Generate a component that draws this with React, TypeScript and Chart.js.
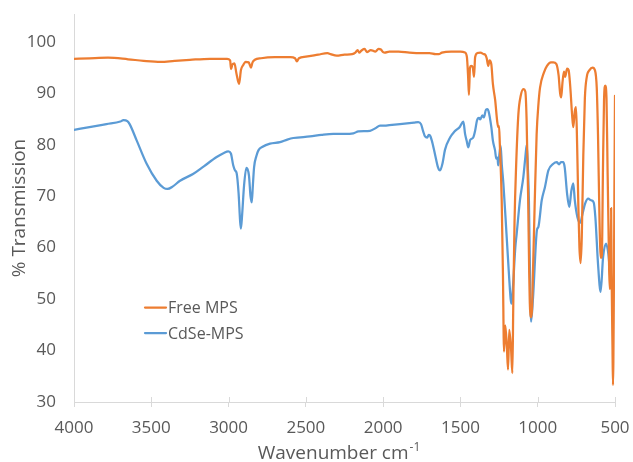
import React, { useEffect, useRef } from "react";
import { Chart, registerables } from "chart.js";

Chart.register(...registerables);

// FTIR spectra: wavenumber (cm-1) vs % transmission
const FREE_WAVENUMBER = [
  4000, 3900, 3780, 3650, 3550, 3440, 3350, 3250, 3120, 3010, 2990, 2984, 2975, 2962, 2950, 2932, 2920, 2905,
  2890, 2870, 2855, 2845, 2830, 2790, 2700, 2600, 2570, 2558, 2545, 2500, 2420, 2360, 2340, 2300, 2250, 2200,
  2180, 2165, 2155, 2140, 2120, 2105, 2080, 2050, 2030, 2015, 2000, 1990, 1960, 1900, 1830, 1750, 1700, 1660,
  1640, 1620, 1560, 1500, 1470, 1458, 1450, 1445, 1438, 1430, 1420, 1412, 1405, 1390, 1370, 1350, 1340, 1330,
  1320, 1312, 1300, 1290, 1275, 1262, 1255, 1250, 1245, 1233, 1225, 1218, 1210, 1200, 1192, 1184, 1172, 1164,
  1158, 1150, 1140, 1125, 1110, 1093, 1080, 1072, 1062, 1055, 1047, 1040, 1030, 1020, 1007, 995, 985, 960,
  940, 915, 899, 880, 865, 855, 848, 840, 830, 822, 810, 800, 790, 778, 770, 760, 752, 745, 737, 730, 722,
  715, 705, 695, 683, 665, 645, 630, 618, 610, 600, 592, 585, 578, 571, 563, 555, 548, 540, 535, 528, 525,
  522, 516, 513, 508, 504, 500,
];
const FREE_TRANSMISSION = [
  96.7, 96.8, 96.9, 96.6, 96.3, 96.1, 96.3, 96.5, 96.7, 96.7, 96.4, 94.7, 95.6, 95.8, 94.0, 91.8, 94.5, 95.5,
  96.1, 96.0, 95.0, 96.0, 96.5, 96.8, 97.0, 97.0, 96.8, 96.2, 96.8, 97.1, 97.5, 97.8, 97.6, 97.3, 97.5, 97.6,
  97.9, 98.4, 97.9, 98.3, 98.6, 98.0, 98.4, 98.1, 98.6, 98.5, 98.0, 97.9, 98.1, 98.1, 97.9, 97.8, 97.8, 97.6,
  97.6, 97.9, 98.1, 98.1, 97.9, 97.0, 93.0, 89.7, 95.0, 95.3, 95.0, 93.2, 97.0, 97.8, 97.9, 97.6, 97.5, 96.8,
  95.3, 96.4, 95.6, 91.8, 88.6, 84.5, 83.4, 83.6, 80.0, 69.2, 55.0, 39.8, 44.9, 41.0, 36.3, 44.0, 40.0, 35.6,
  49.2, 65.0, 75.6, 86.0, 89.5, 90.8, 90.3, 85.0, 70.0, 55.0, 46.5, 46.5, 56.0, 68.0, 82.0, 88.0, 91.1, 94.0,
  95.3, 96.0, 96.0, 95.7, 93.5, 90.0, 89.2, 92.0, 94.2, 93.2, 94.8, 94.5, 91.5, 86.0, 83.4, 86.5, 87.3, 80.0,
  68.0, 60.0, 57.0, 62.0, 78.0, 89.0, 93.1, 94.5, 95.0, 94.5, 91.0, 82.0, 65.0, 58.0, 58.5, 75.0, 88.6, 91.5,
  89.0, 75.0, 60.0, 52.0, 55.0, 67.7, 55.0, 40.0, 33.3, 48.0, 70.0, 89.5,
];

const CDSE_WAVENUMBER = [
  4000, 3900, 3790, 3700, 3680, 3655, 3640, 3594, 3530, 3465, 3420, 3395, 3360, 3314, 3230, 3160, 3077, 3030,
  3002, 2985, 2970, 2958, 2948, 2935, 2925, 2920, 2912, 2900, 2885, 2878, 2868, 2858, 2850, 2843, 2835, 2820,
  2807, 2780, 2732, 2667, 2620, 2581, 2473, 2400, 2322, 2250, 2193, 2160, 2085, 2050, 2020, 1990, 1960, 1891,
  1800, 1773, 1755, 1742, 1729, 1715, 1705, 1697, 1685, 1665, 1645, 1632, 1615, 1600, 1567, 1540, 1503, 1481,
  1470, 1460, 1449, 1437, 1417, 1405, 1393, 1380, 1372, 1358, 1348, 1335, 1325, 1318, 1300, 1290, 1276, 1268,
  1260, 1256, 1250, 1240, 1232, 1222, 1202, 1185, 1175, 1169, 1160, 1145, 1136, 1115, 1093, 1080, 1071, 1063,
  1057, 1050, 1043, 1030, 1005, 996, 974, 953, 931, 899, 877, 862, 850, 834, 825, 810, 796, 782, 770, 760, 743,
  726, 710, 694, 673, 655, 638, 627, 610, 593, 577, 558, 543, 521, 510, 500,
];
const CDSE_TRANSMISSION = [
  82.9, 83.4, 84.0, 84.5, 84.8, 84.6, 84.0, 80.8, 76.3, 73.0, 71.6, 71.4, 71.9, 73.0, 74.3, 75.8, 77.6, 78.4,
  78.7, 78.3, 76.0, 75.0, 74.5, 70.5, 65.0, 63.7, 66.5, 72.0, 75.5, 75.3, 74.0, 70.0, 68.8, 72.0, 75.6, 77.8,
  78.9, 79.6, 80.2, 80.5, 81.0, 81.3, 81.6, 81.9, 82.1, 82.1, 82.2, 82.6, 82.7, 83.2, 83.7, 83.7, 83.8, 84.0,
  84.3, 84.4, 84.0, 82.7, 81.6, 81.4, 81.9, 81.8, 80.8, 78.2, 75.6, 75.0, 76.5, 79.0, 81.4, 82.5, 83.5, 84.5,
  82.1, 80.8, 79.5, 80.9, 81.4, 82.7, 84.7, 85.2, 84.9, 85.7, 85.3, 86.8, 86.9, 86.5, 83.4, 80.8, 78.9, 77.3,
  77.5, 76.0, 77.5, 79.8, 76.0, 72.4, 62.7, 54.3, 50.0, 49.1, 52.4, 60.0, 62.7, 69.2, 73.7, 77.6, 80.0, 75.0,
  69.2, 55.0, 45.6, 50.4, 63.4, 64.0, 69.2, 71.8, 75.0, 76.3, 76.6, 76.2, 76.6, 76.6, 75.5, 70.5, 67.9, 71.1,
  72.5, 69.2, 65.9, 64.8, 66.6, 68.5, 69.5, 69.2, 68.8, 65.9, 56.9, 51.4, 58.2, 60.8, 58.8, 52.0, 53.7, 55.4,
];

const SERIES_NAMES = ["Free MPS", "CdSe-MPS"];
const SERIES_COLORS = ["#ED7D31", "#5B9BD5"];
const X_TICKS = [4000, 3500, 3000, 2500, 2000, 1500, 1000, 500];
const Y_TICKS = [30, 40, 50, 60, 70, 80, 90, 100];
const X_TITLE = "Wavenumber cm";
const X_TITLE_SUP = "-1";
const Y_TITLE = "% Transmission";

const FONT = "'Open Sans', 'Liberation Sans', sans-serif";
const TEXT_COLOR = "#595959";
const AXIS_COLOR = "#D9D9D9";

const toPoints = (xs: number[], ys: number[]) => xs.map((x, i) => ({ x, y: ys[i] }));

// Inward half of the x tick marks, the axis title with its superscript, and the legend
const decorations = {
  id: "decorations",
  afterDraw(chart: any) {
    const { ctx, chartArea, scales } = chart;
    const xs = scales.x;
    ctx.save();
    ctx.strokeStyle = AXIS_COLOR;
    ctx.lineWidth = 1;
    xs.ticks.forEach((t: any) => {
      const px = Math.round(xs.getPixelForValue(t.value)) + 0.5;
      ctx.beginPath();
      ctx.moveTo(px, chartArea.bottom - 5);
      ctx.lineTo(px, chartArea.bottom);
      ctx.stroke();
    });

    // x axis title with superscript
    ctx.fillStyle = TEXT_COLOR;
    ctx.textBaseline = "alphabetic";
    ctx.textAlign = "left";
    ctx.font = `19px ${FONT}`;
    const mainW = ctx.measureText(X_TITLE).width;
    ctx.font = `12px ${FONT}`;
    const supW = ctx.measureText(X_TITLE_SUP).width;
    const cx = (chartArea.left + chartArea.right) / 2 - 6;
    const startX = cx - (mainW + supW) / 2;
    ctx.font = `19px ${FONT}`;
    ctx.fillText(X_TITLE, startX, 459);
    ctx.font = `12px ${FONT}`;
    ctx.fillText(X_TITLE_SUP, startX + mainW + 1, 451);

    // legend
    const legendRows = [307.5, 333];
    ctx.font = `16px ${FONT}`;
    SERIES_NAMES.forEach((name, i) => {
      const y = legendRows[i];
      ctx.strokeStyle = SERIES_COLORS[i];
      ctx.lineWidth = 2.25;
      ctx.lineCap = "round";
      ctx.beginPath();
      ctx.moveTo(145, y);
      ctx.lineTo(166, y);
      ctx.stroke();
      ctx.fillStyle = TEXT_COLOR;
      ctx.textBaseline = "middle";
      ctx.fillText(name, 168, y + 1);
    });
    ctx.restore();
  },
};

export default function App() {
  const canvasRef = useRef<HTMLCanvasElement | null>(null);

  useEffect(() => {
    if (!canvasRef.current) return;
    const chart = new Chart(canvasRef.current, {
      type: "line",
      data: {
        datasets: [
          {
            label: SERIES_NAMES[0],
            data: toPoints(FREE_WAVENUMBER, FREE_TRANSMISSION),
            borderColor: SERIES_COLORS[0],
            borderWidth: 2.25,
            pointRadius: 0,
            cubicInterpolationMode: "monotone",
            borderCapStyle: "round",
            borderJoinStyle: "round",
          },
          {
            label: SERIES_NAMES[1],
            data: toPoints(CDSE_WAVENUMBER, CDSE_TRANSMISSION),
            borderColor: SERIES_COLORS[1],
            borderWidth: 2.25,
            pointRadius: 0,
            cubicInterpolationMode: "monotone",
            borderCapStyle: "round",
            borderJoinStyle: "round",
          },
        ],
      },
      options: {
        animation: false,
        responsive: true,
        maintainAspectRatio: false,
        layout: { padding: { left: 0, right: 18, top: 14, bottom: 0 } },
        plugins: {
          legend: { display: false },
          tooltip: { enabled: false },
        },
        scales: {
          x: {
            type: "linear",
            reverse: true,
            min: 500,
            max: 4000,
            afterBuildTicks: (s: any) => {
              s.ticks = X_TICKS.map((v) => ({ value: v }));
            },
            afterFit: (s: any) => {
              s.height = 60;
              s.paddingLeft = 0;
              s.paddingRight = 0;
            },
            grid: {
              display: true,
              drawOnChartArea: false,
              drawTicks: true,
              tickLength: 5,
              color: AXIS_COLOR,
            },
            border: { display: true, color: AXIS_COLOR, width: 1 },
            ticks: {
              autoSkip: false,
              maxRotation: 0,
              padding: 11,
              color: TEXT_COLOR,
              font: { family: FONT, size: 17 },
              callback: (v: any) => String(v),
            },
          },
          y: {
            type: "linear",
            min: 30,
            max: 105.4,
            afterBuildTicks: (s: any) => {
              s.ticks = Y_TICKS.map((v) => ({ value: v }));
            },
            afterFit: (s: any) => {
              s.width = 74;
              s.paddingTop = 0;
              s.paddingBottom = 0;
            },
            grid: { display: false, drawTicks: false },
            border: { display: true, color: AXIS_COLOR, width: 1 },
            ticks: {
              padding: 18,
              color: TEXT_COLOR,
              font: { family: FONT, size: 17 },
              callback: (v: any) => String(v),
            },
            title: {
              display: true,
              text: Y_TITLE,
              color: TEXT_COLOR,
              font: { family: FONT, size: 19 },
              padding: { top: 8, bottom: 0 },
            },
          },
        },
      },
      plugins: [decorations],
    });
    return () => chart.destroy();
  }, []);

  return (
    <div style={{ position: "fixed", left: 0, top: 0, width: 633, height: 462, background: "#fff" }}>
      <canvas ref={canvasRef} />
    </div>
  );
}
